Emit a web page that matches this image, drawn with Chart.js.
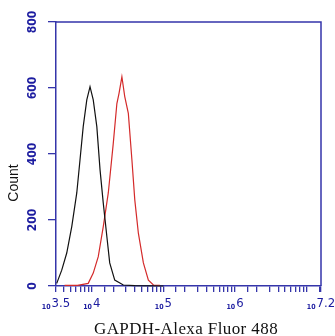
<!DOCTYPE html>
<html>
<head>
<meta charset="utf-8">
<script src="https://cdn.jsdelivr.net/npm/chart.js@4"></script>
<style>
  html, body { margin: 0; padding: 0; background: #fff; }
  #wrap { width: 335px; height: 336px; }
</style>
</head>
<body>
<div id="wrap"><canvas id="histo"></canvas></div>
<script>
// exponents (log10 of intensity) and counts
const blackLog   = [3.51, 3.58, 3.65, 3.72, 3.79, 3.835, 3.88, 3.93, 3.975, 4.02, 4.07, 4.115, 4.16, 4.21, 4.25, 4.32, 4.44, 4.6, 5.0];
const blackCount = [8, 48, 100, 180, 282, 382, 483, 564, 604, 564, 483, 352, 251, 150, 70, 18, 3, 1, 0];

const redLog   = [3.62, 3.8, 3.95, 4.02, 4.09, 4.16, 4.23, 4.30, 4.35, 4.38, 4.42, 4.46, 4.51, 4.56, 4.60, 4.65, 4.72, 4.79, 4.86, 4.95];
const redCount = [2, 2, 8, 39, 89, 180, 282, 433, 553, 584, 634, 574, 523, 382, 261, 160, 70, 18, 3, 2];

const xTickExps = ['3.5', '4', '5', '6', '7.2'];
const yTicks = [0, 200, 400, 600, 800];

const axisBlue = '#3535aa';
const labelBlue = '#1c1ca0';

function toPoints(logs, counts) {
  return logs.map((d, i) => ({ x: Math.pow(10, d), y: counts[i] }));
}

// draws frame, tick labels and titles
const textPlugin = {
  id: 'texts',
  afterDraw(chart) {
    const ctx = chart.ctx;
    const a = chart.chartArea;
    const xs = chart.scales.x, ys = chart.scales.y;
    ctx.save();
    ctx.strokeStyle = axisBlue;
    ctx.lineWidth = 1.5;
    ctx.beginPath();
    ctx.moveTo(a.left, a.top); ctx.lineTo(a.right, a.top); ctx.lineTo(a.right, a.bottom);
    ctx.stroke();

    // x labels: small "10" then exponent
    ctx.fillStyle = labelBlue;
    ctx.textBaseline = 'alphabetic';
    ctx.textAlign = 'left';
    const big = '13px "Liberation Sans Narrow", "DejaVu Sans Condensed", sans-serif';
    const small = 'bold 7px "Liberation Sans Narrow", "DejaVu Sans Condensed", sans-serif';
    xTickExps.forEach(e => {
      const px = xs.getPixelForValue(Math.pow(10, parseFloat(e)));
      ctx.font = small; const w1 = ctx.measureText('10').width;
      ctx.font = big; const w2 = ctx.measureText(e).width;
      const x0 = px - (w1 + w2 + 1) / 2;
      ctx.font = small; ctx.fillText('10', x0, 309);
      ctx.font = big; ctx.fillText(e, x0 + w1 + 1, 307);
    });

    // y labels rotated
    ctx.font = 'bold 12px "Liberation Sans Narrow", "DejaVu Sans Condensed", sans-serif';
    ctx.textAlign = 'center';
    ctx.textBaseline = 'middle';
    yTicks.forEach(v => {
      const py = ys.getPixelForValue(v);
      ctx.save();
      ctx.translate(33, py);
      ctx.rotate(-Math.PI / 2);
      ctx.fillText(String(v), 0, 0);
      ctx.restore();
    });

    // titles
    ctx.fillStyle = '#111';
    ctx.font = '14px "Liberation Sans", Arial, sans-serif';
    ctx.save();
    ctx.translate(14, 183);
    ctx.rotate(-Math.PI / 2);
    ctx.fillText('Count', 0, 0);
    ctx.restore();

    ctx.font = '17px "Liberation Serif", "Times New Roman", serif';
    ctx.letterSpacing = '0.4px';
    ctx.textAlign = 'center';
    ctx.textBaseline = 'alphabetic';
    ctx.fillText('GAPDH-Alexa Fluor 488', 186, 334);
    ctx.restore();
  }
};

new Chart(document.getElementById('histo'), {
  type: 'line',
  data: {
    datasets: [
      { label: 'Control', data: toPoints(blackLog, blackCount), borderColor: '#111111', borderWidth: 1.2, pointRadius: 0, tension: 0, clip: 3 },
      { label: 'GAPDH', data: toPoints(redLog, redCount), borderColor: '#d42a2a', borderWidth: 1.2, pointRadius: 0, tension: 0, clip: 3 }
    ]
  },
  options: {
    responsive: true,
    maintainAspectRatio: false,
    animation: false,
    layout: { padding: { left: 0, right: 14, top: 22, bottom: 0 } },
    plugins: { legend: { display: false }, tooltip: { enabled: false } },
    scales: {
      x: {
        type: 'logarithmic',
        min: Math.pow(10, 3.5),
        max: Math.pow(10, 7.2),
        afterFit: s => { s.height = 50; },
        border: { color: axisBlue, width: 1.5 },
        grid: { drawOnChartArea: false, drawTicks: true, tickLength: 6, color: axisBlue, lineWidth: 1.3 },
        ticks: { autoSkip: false, maxRotation: 0, callback: () => '' }
      },
      y: {
        min: 0,
        max: 800,
        afterFit: s => { s.width = 56; },
        border: { color: axisBlue, width: 1.5 },
        grid: { drawOnChartArea: false, drawTicks: true, tickLength: 8, color: axisBlue, lineWidth: 1.3 },
        ticks: { stepSize: 200, callback: () => '' }
      }
    }
  },
  plugins: [textPlugin]
});
</script>
</body>
</html>
